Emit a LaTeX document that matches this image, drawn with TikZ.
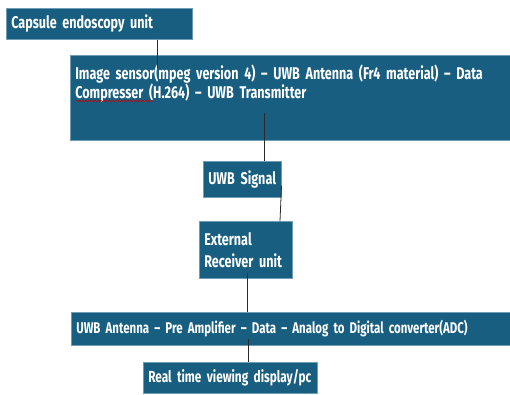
\documentclass[tikz,border=0pt]{standalone}
\usepackage{fontspec}
\newfontfamily\boxfont{Fira Sans}[FakeStretch=0.74, Ligatures=TeX]
\usetikzlibrary{decorations.pathmorphing}
\definecolor{unit-bg}{HTML}{185E80}
\definecolor{unit-edge}{HTML}{6F9DB7}
\definecolor{wire}{HTML}{2A2A2A}

\begin{document}
\begin{tikzpicture}[x=1pt, y=-1pt,
    every node/.style={font=\boxfont\bfseries\fontsize{17}{19}\selectfont, text=white},
    unitbox/.style={draw=unit-edge, fill=unit-bg, line width=0.6pt, anchor=north west,
      align=left, inner xsep=5pt, inner ysep=0pt},
    wirelink/.style={line width=0.8pt, color=wire}]
  \useasboundingbox (0,0) rectangle (510,394);
  \node[unitbox, text width=176pt, minimum height=31pt] (capsule) at (6,8) {\mbox{Capsule endoscopy unit}};
  \node[unitbox, text width=432pt, minimum height=85pt] (sensor) at (70,55)
    {\parbox[t][79pt][t]{432pt}{\vspace{7pt}Image sensor(mpeg version 4) – UWB Antenna (Fr4 material) – Data\\
     Compresser (H.264) – UWB Transmitter}};
  \node[unitbox, text width=68pt, minimum height=36pt] (signal) at (203,161) {\mbox{UWB Signal}};
  \node[unitbox, text width=83pt, minimum height=57pt, font=\boxfont\bfseries\fontsize{17}{22}\selectfont]
    (receiver) at (199,221) {External\\\mbox{Receiver unit}};
  \node[unitbox, text width=431pt, minimum height=33pt, font=\boxfont\bfseries\fontsize{15.5}{19}\selectfont]
    (adc) at (71,312) {\mbox{UWB Antenna – Pre Amplifier – Data – Analog to Digital converter(ADC)}};
  \node[unitbox, text width=164pt, minimum height=31pt, font=\boxfont\bfseries\fontsize{16}{19}\selectfont]
    (display) at (143,362) {\mbox{Real time viewing display/pc}};
  % spell-check mark
  \draw[red!80!black, line width=0.5pt, decorate,
    decoration={snake, amplitude=0.8pt, segment length=3pt}] (76,101) -- (153,101);
  % links
  \draw[wirelink, shorten >=-13pt] (157,0 |- capsule.south) -- (157,0 |- sensor.north);
  \draw[wirelink, shorten <=-28pt] (264,0 |- sensor.south) -- (264,0 |- signal.north);
  \draw[wirelink, shorten <=-12pt] (281,0 |- signal.south) -- (280,0 |- receiver.north);
  \draw[wirelink, shorten <=-6pt] (247,0 |- receiver.south) -- (247,0 |- adc.north);
  \draw[wirelink, shorten <=-7pt] (248,0 |- adc.south) -- (248,0 |- display.north);
\end{tikzpicture}
\end{document}
